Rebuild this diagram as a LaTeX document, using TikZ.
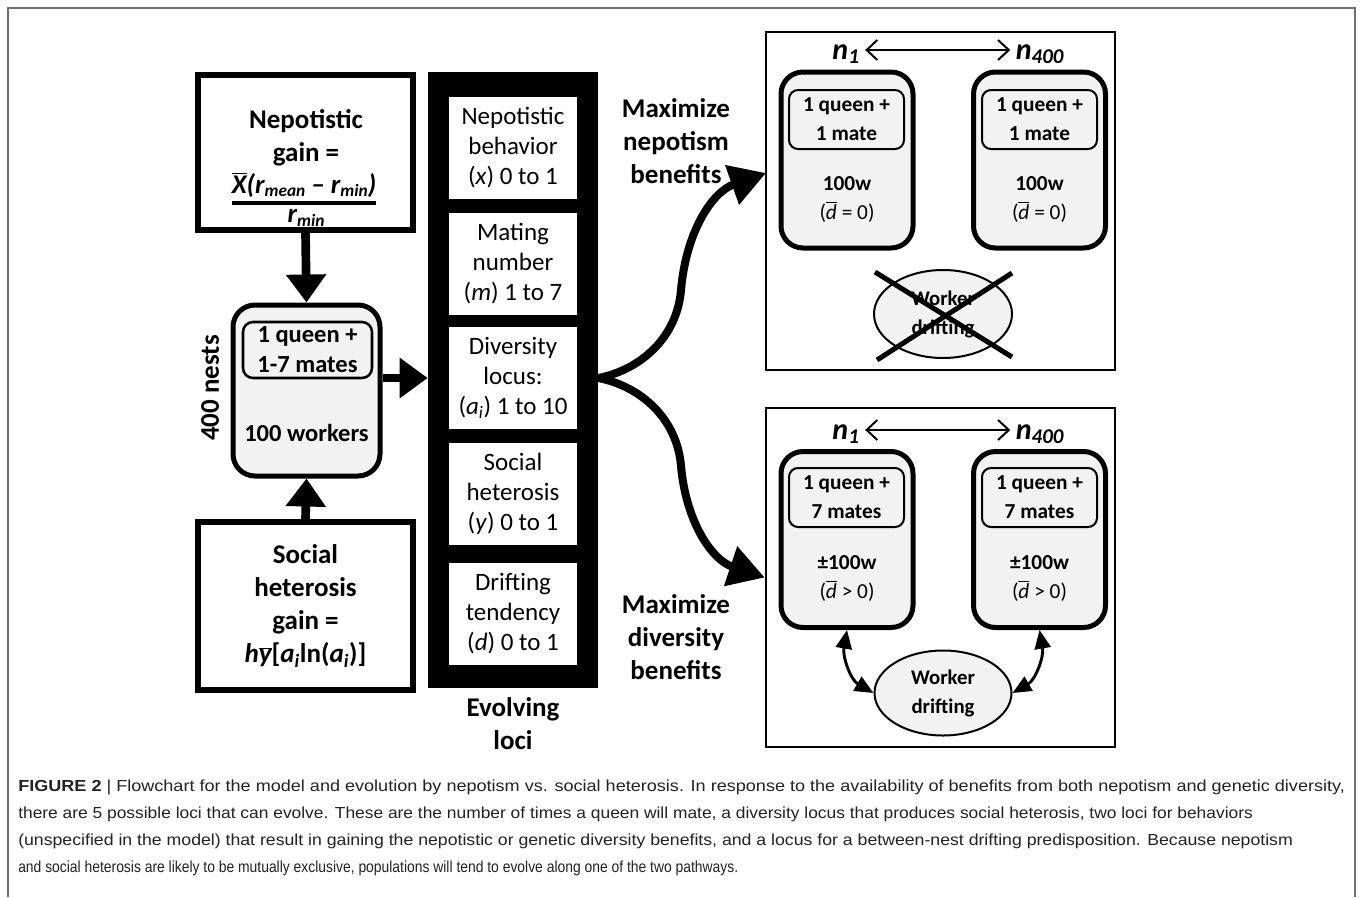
\documentclass[tikz,border=0pt]{standalone}
\usepackage{fontspec}
\usepackage{graphicx}
\setmainfont{Carlito}
\newfontfamily\capfont{Liberation Sans}
\usetikzlibrary{arrows.meta,shapes.geometric}
\newcommand{\fA}{\fontsize{20.25pt}{24.75pt}\selectfont}
\newcommand{\fB}{\fontsize{18.75pt}{22.5pt}\selectfont}
\newcommand{\fC}{\fontsize{18.4pt}{22.5pt}\selectfont}
\newcommand{\fD}{\fontsize{16pt}{21.75pt}\selectfont}
\newcommand{\fE}{\fontsize{15.6pt}{21.75pt}\selectfont}
\newcommand{\fN}{\fontsize{22.5pt}{26pt}\selectfont}
\newcommand{\fCap}{\capfont\fontsize{12pt}{14pt}\selectfont}
\newcommand{\dbar}{$\overline{\mbox{\itshape d}}$}
\newcommand{\lsub}[1]{\raisebox{-0.3ex}{\fontsize{13pt}{14pt}\selectfont #1}}
\definecolor{nestgray}{HTML}{F2F2F2}
\definecolor{framegray}{HTML}{6E6E6E}
\definecolor{captext}{HTML}{222222}
\begin{document}
\begin{tikzpicture}[x=0.75pt,y=-0.75pt,
  gainbox/.style={draw, line width=4.5pt, minimum width=161.25pt, inner sep=0pt, align=center},
  nestbig/.style={draw, fill=nestgray, line width=3.75pt, rounded corners=16.5pt, minimum width=110.25pt, minimum height=128.25pt},
  nestinner/.style={draw, fill=nestgray, line width=1.9pt, rounded corners=7.5pt, minimum width=96.75pt, minimum height=42pt, inner sep=0pt, align=center, font=\fC\bfseries},
  locbox/.style={fill=white, minimum width=96pt, minimum height=76.5pt, inner sep=0pt, align=center, font=\fB},
  panel/.style={draw, line width=1.9pt, minimum width=261.75pt, inner sep=0pt},
  pnest/.style={draw, fill=nestgray, line width=3.75pt, rounded corners=16.5pt, minimum width=99pt, minimum height=132pt},
  pinner/.style={draw, fill=nestgray, line width=1.5pt, rounded corners=6.75pt, minimum width=86.25pt, minimum height=44.25pt, inner sep=0pt, align=center, font=\fD\bfseries},
  ptext/.style={align=center, font=\fD, inner sep=0pt},
  drift/.style={draw, ellipse, fill=nestgray, line width=1.5pt, inner sep=0pt, align=center, font=\fE\bfseries},
  bold27/.style={align=center, font=\fA\bfseries, inner sep=0pt},
  fracpart/.style={font=\fA\bfseries\itshape, inner sep=0pt},
  fracbar/.style={line width=3pt},
  bigarrow/.style={line width=6.5pt, -{Triangle[length=21pt,width=29pt]}},
  curvearrow/.style={line width=6pt, -{Triangle[length=27pt,width=30pt]}},
  thinarrow/.style={line width=1.5pt, {Straight Barb[length=8pt,width=15pt]}-{Straight Barb[length=8pt,width=15pt]}},
  driftarrow/.style={line width=2.2pt, {Triangle[length=14pt,width=12pt]}-{Triangle[length=14pt,width=12pt]}},
  crossline/.style={line width=3.75pt},
  nlabel/.style={font=\fN\bfseries\itshape, inner sep=0pt},
  caption/.style={anchor=base west, inner sep=0pt, font=\fCap, text=captext}
]
\useasboundingbox (0,0) rectangle (1360,897);
% outer frame
\draw[framegray, line width=1.2pt] (8,897) -- (8,8) -- (1355,8) -- (1355,897);

% left column
\node[gainbox, minimum height=116.25pt] (nepbox) at (305.5,152.5) {};
\node[bold27] (neptext) at (306,138) {Nepotistic\\gain =};
\node[fracpart] (nepnum) at (304,185) {$\overline{\mbox{X}}$(r\lsub{mean} -- r\lsub{min})};
\node[fracpart] (nepden) at (306,218) {r\lsub{min}};
\coordinate (nepbar) at (306,203);
\draw[fracbar] (nepnum.west |- nepbar) -- (nepnum.east |- nepbar);

\node[nestbig] (nest) at (306.5,390.5) {};
\node[nestinner] (queen) at (307.5,350) {1 queen +\\1-7 mates};
\node[font=\fC\bfseries, inner sep=0pt] (workers) at (306.5,433) {100 workers};
\node[bold27, rotate=90] (nests) at (210,388) {400 nests};

\node[gainbox, minimum height=126pt, font=\fA\bfseries] (socbox) at (305.5,606)
  {Social\\heterosis\\gain =\\{\itshape h}$\overline{\mbox{\itshape y}}$[{\itshape a}\textsubscript{\itshape i}ln({\itshape a}\textsubscript{\itshape i})]};

\draw[bigarrow] (nepbox.south) -- (nest.north);
\draw[bigarrow] (socbox.north) -- (nest.south);

% evolving loci column
\node[fill=black, minimum width=127.5pt, minimum height=462pt, inner sep=0pt] (col) at (513,380) {};
\node[locbox] (loc1) at (513,148) {Nepotistic\\behavior\\(\textit{x}) 0 to 1};
\node[locbox] (loc2) at (513,264) {Mating\\number\\(\textit{m}) 1 to 7};
\node[locbox] (loc3) at (513,378) {Diversity\\locus:\\(\textit{a}\textsubscript{\itshape i}) 1 to 10};
\node[locbox] (loc4) at (513,493.5) {Social\\heterosis\\(\textit{y}) 0 to 1};
\node[locbox] (loc5) at (513,613.5) {Drifting\\tendency\\(\textit{d}) 0 to 1};
\node[bold27] (evol) at (513,724) {Evolving\\loci};

\draw[bigarrow] (nest.east |- loc3.center) -- (col.west |- loc3.center);

% labels of pathways
\node[bold27] (maxnep) at (676,141) {Maximize\\nepotism\\benefits};
\node[bold27] (maxdiv) at (676,637) {Maximize\\diversity\\benefits};

% panels
\node[panel, minimum height=253.5pt] (panA) at (940.5,201) {};
\node[panel, minimum height=254.25pt] (panB) at (940.5,577.5) {};

\coordinate (fork) at (col.east |- loc3.center);
\coordinate (tipA) at (766,173);
\coordinate (tipB) at (panB.west);
\draw[curvearrow] (fork) .. controls (640,370) and (677,338) .. (681,290) .. controls (686,232) and (712,192) .. (tipA);
\draw[curvearrow] (fork) .. controls (640,386) and (677,418) .. (681,466) .. controls (686,522) and (712,560) .. (tipB);

% panel A
\node[nlabel] (nA1) at (846,54) {n\textsubscript{1}};
\node[nlabel] (nA2) at (1040,54) {n\textsubscript{400}};
\draw[thinarrow] ([xshift=4pt,yshift=3pt]nA1.east) -- ([xshift=-4pt,yshift=3pt]nA2.west);
\node[pnest] (nestA1) at (847,160) {};
\node[pnest] (nestA2) at (1039.5,160) {};
\node[pinner] (qA1) at (846.5,119.5) {1 queen +\\1 mate};
\node[pinner] (qA2) at (1039.5,119.5) {1 queen +\\1 mate};
\node[ptext] (wA1) at (847,199) {{\bfseries 100w}\\(\dbar{} = 0)};
\node[ptext] (wA2) at (1039.5,199) {{\bfseries 100w}\\(\dbar{} = 0)};
\node[drift, minimum width=103.5pt, minimum height=66pt] (ellA) at (943,314) {Worker\\drifting};
\coordinate (xa1) at (875,272);
\coordinate (xa2) at (1012,357);
\coordinate (xa3) at (1012,273);
\coordinate (xa4) at (877,360);
\draw[crossline] (xa1) -- (xa2);
\draw[crossline] (xa3) -- (xa4);

% panel B
\node[nlabel] (nB1) at (846,434) {n\textsubscript{1}};
\node[nlabel] (nB2) at (1040,434) {n\textsubscript{400}};
\draw[thinarrow] ([xshift=4pt,yshift=3pt]nB1.east) -- ([xshift=-4pt,yshift=3pt]nB2.west);
\node[pnest] (nestB1) at (847,539.5) {};
\node[pnest] (nestB2) at (1039.5,539.5) {};
\node[pinner] (qB1) at (846.5,497.5) {1 queen +\\7 mates};
\node[pinner] (qB2) at (1039.5,497.5) {1 queen +\\7 mates};
\node[ptext] (wB1) at (847,578) {{\bfseries ±100w}\\(\dbar{} > 0)};
\node[ptext] (wB2) at (1039.5,578) {{\bfseries ±100w}\\(\dbar{} > 0)};
\node[drift, minimum width=102.75pt, minimum height=63.75pt] (ellB) at (943,693) {Worker\\drifting};
\draw[driftarrow] (nestB1.south) to[out=-100, in=150] (ellB.west);
\draw[driftarrow] (nestB2.south) to[out=-80, in=30] (ellB.east);

% caption
\node[caption] (cap1) at (18,791) {\resizebox{995pt}{\height}{\textbf{FIGURE 2} | Flowchart for the model and evolution by nepotism vs. social heterosis. In response to the availability of benefits from both nepotism and genetic diversity,}};
\node[caption] (cap2) at (18,818) {\resizebox{926pt}{\height}{there are 5 possible loci that can evolve. These are the number of times a queen will mate, a diversity locus that produces social heterosis, two loci for behaviors}};
\node[caption] (cap3) at (18,845) {\resizebox{956pt}{\height}{(unspecified in the model) that result in gaining the nepotistic or genetic diversity benefits, and a locus for a between-nest drifting predisposition. Because nepotism}};
\node[caption] (cap4) at (18,872) {\resizebox{540pt}{\height}{and social heterosis are likely to be mutually exclusive, populations will tend to evolve along one of the two pathways.}};
\end{tikzpicture}
\end{document}
